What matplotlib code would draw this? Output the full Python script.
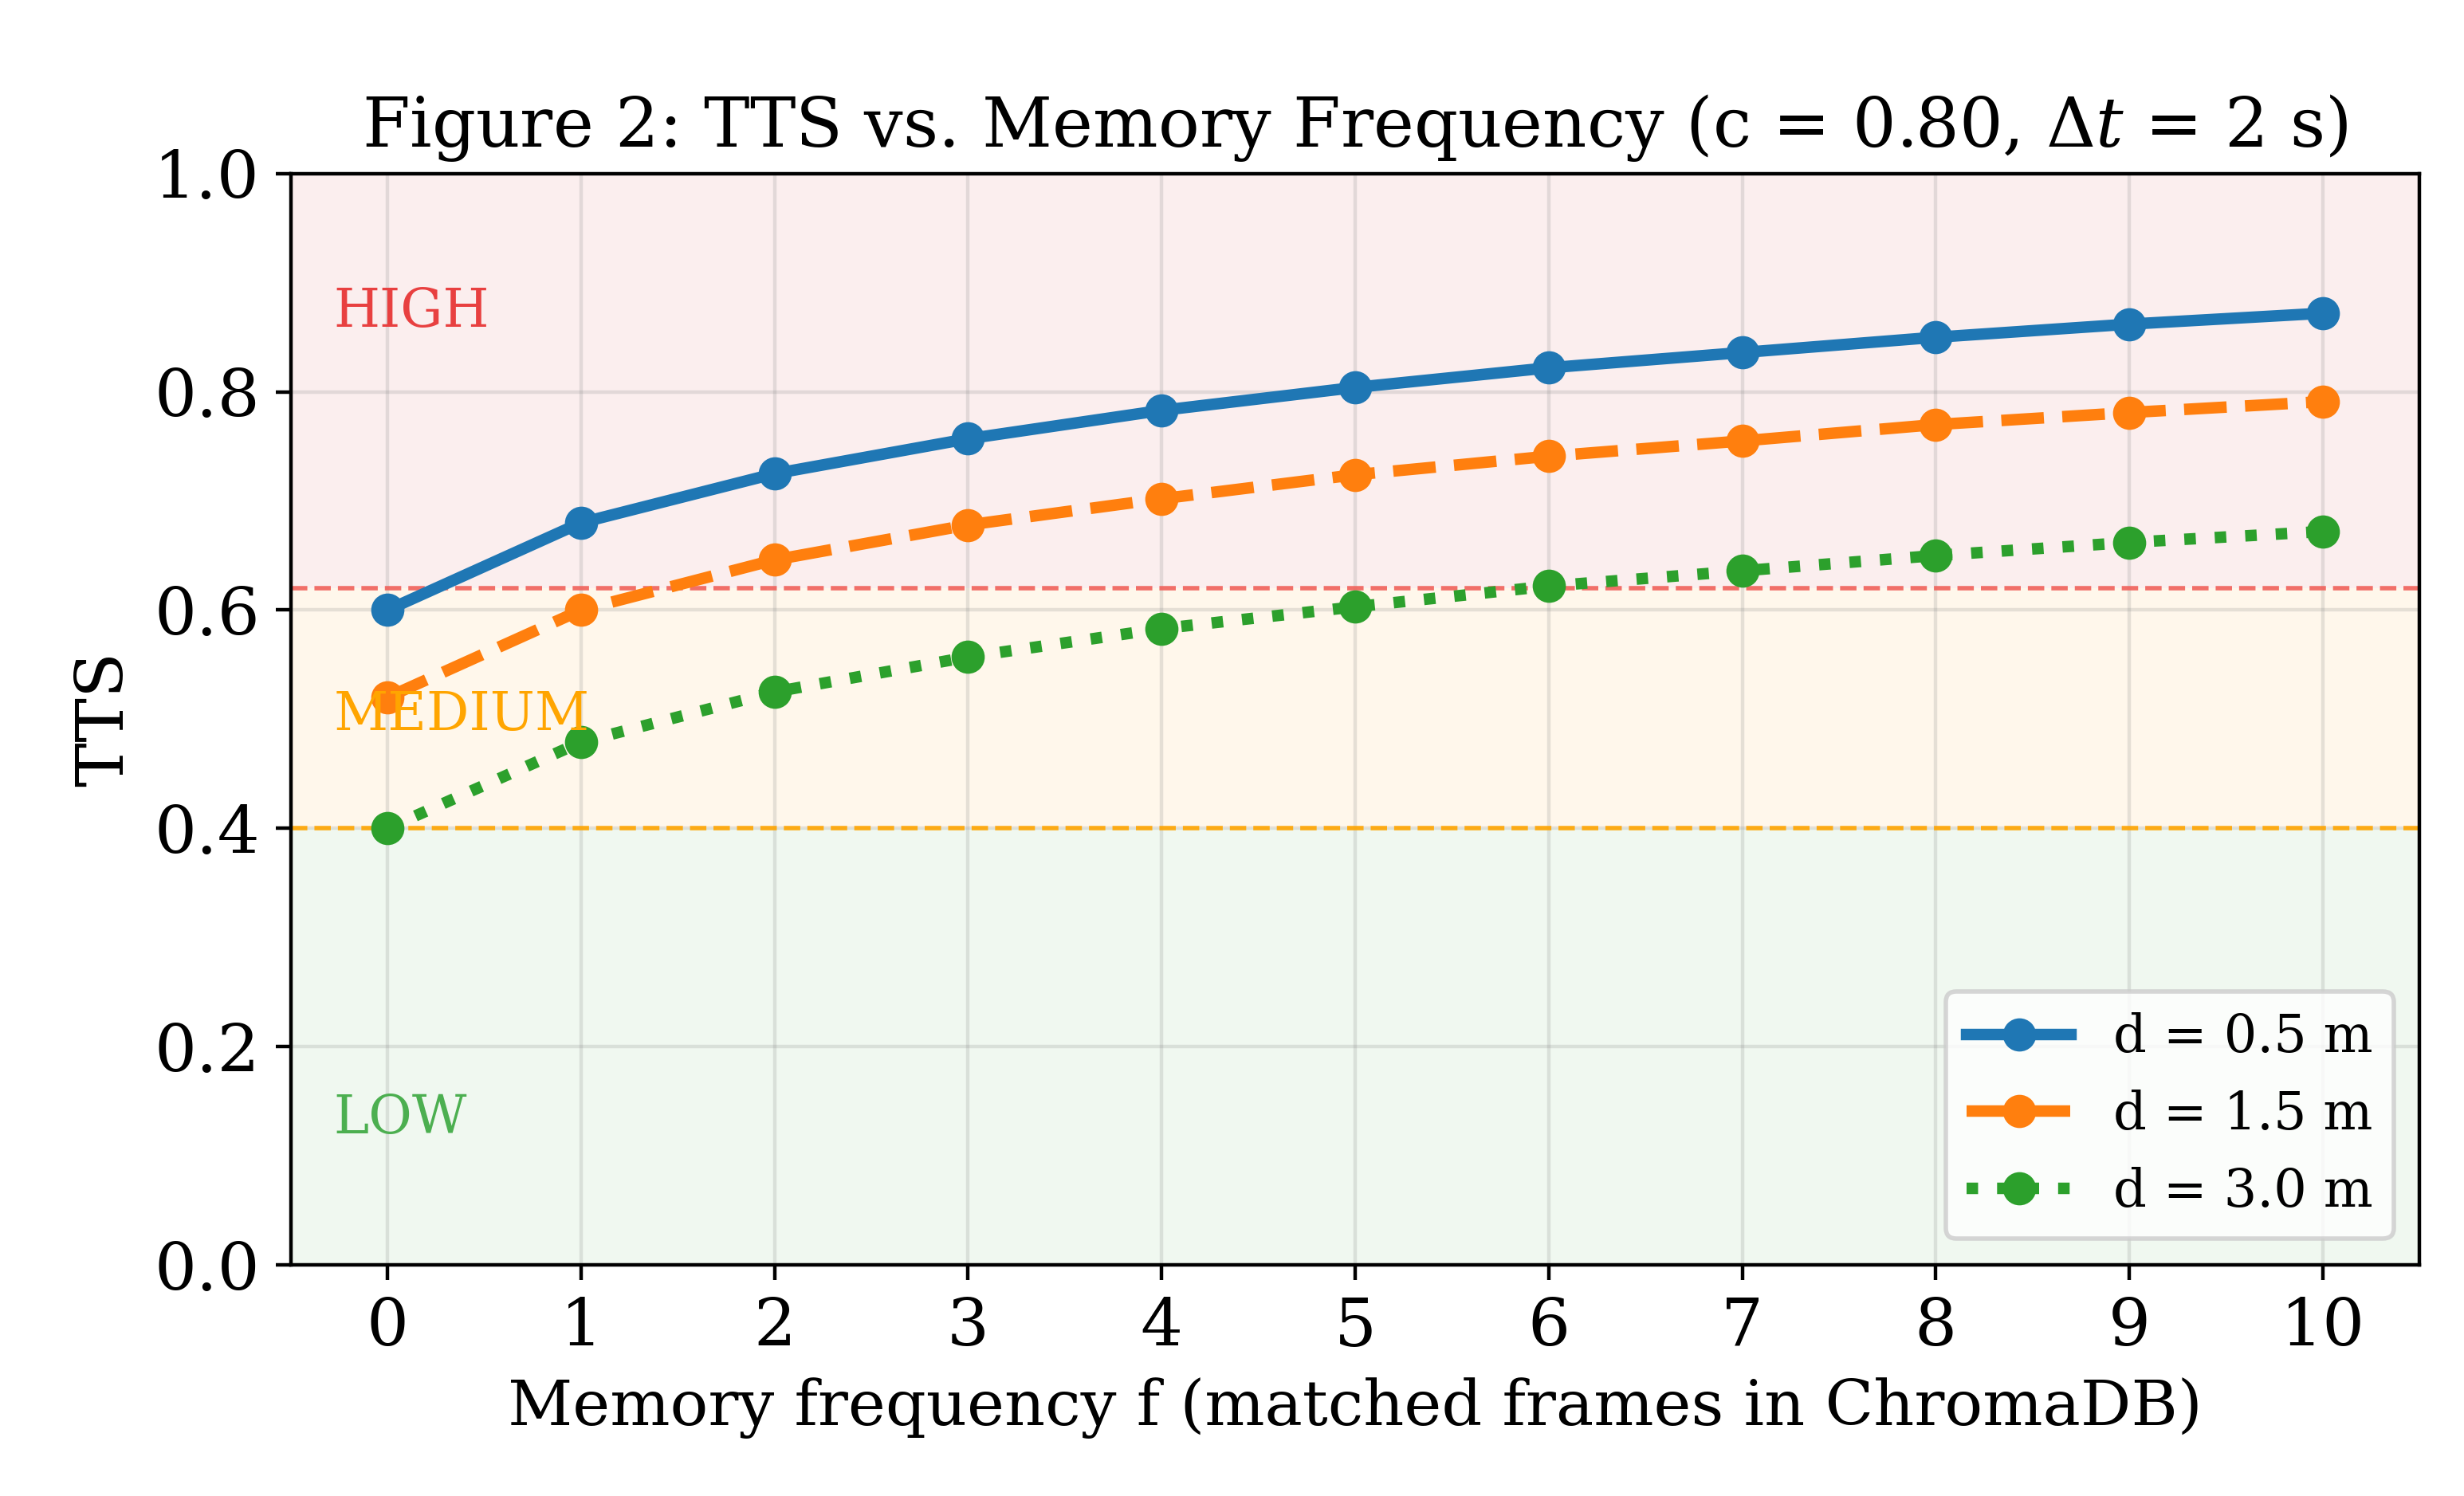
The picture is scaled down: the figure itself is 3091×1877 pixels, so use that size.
import numpy as np
import matplotlib
matplotlib.use('Agg')
from matplotlib import pyplot as plt

freq = np.arange(0, 11)
tts_05 = [0.60, 0.68, 0.725, 0.757, 0.783, 0.804, 0.822, 0.836, 0.850, 0.862, 0.872]
tts_15 = [0.52, 0.60, 0.646, 0.678, 0.702, 0.724, 0.741, 0.755, 0.770, 0.781, 0.791]
tts_30 = [0.40, 0.479, 0.525, 0.557, 0.583, 0.603, 0.622, 0.636, 0.650, 0.662, 0.672]
labels = ['d = 0.5 m', 'd = 1.5 m', 'd = 3.0 m']
high_thr = 0.62
low_thr = 0.40

plt.rcParams['font.family'] = 'DejaVu Serif'
plt.rcParams['mathtext.fontset'] = 'dejavuserif'

fig = plt.figure(figsize=(7.7275, 4.6925), dpi=400)
ax = fig.add_axes([0.118, 0.1545, 0.864, 0.7295])

ax.axhspan(high_thr, 1.0, color='tab:red', alpha=0.08, lw=0)
ax.axhspan(low_thr, high_thr, color='orange', alpha=0.08, lw=0)
ax.axhspan(0.0, low_thr, color='tab:green', alpha=0.07, lw=0)
ax.axhline(high_thr, color='#f0605a', ls='--', lw=1.0, alpha=0.9)
ax.axhline(low_thr, color='orange', ls='--', lw=1.0, alpha=0.9)

ax.plot(freq, tts_05, '-', marker='o', color='tab:blue', lw=2.6, ms=6.5, label=labels[0])
ax.plot(freq, tts_15, '--', marker='o', color='tab:orange', lw=2.6, ms=6.5, label=labels[1])
ax.plot(freq, tts_30, ':', marker='o', color='tab:green', lw=2.6, ms=6.5, label=labels[2])

ax.text(-0.28, 0.873, 'HIGH', color='#e84040', fontsize=12, va='center')
ax.text(-0.28, 0.504, 'MEDIUM', color='orange', fontsize=12, va='center')
ax.text(-0.28, 0.134, 'LOW', color='#4caf50', fontsize=12, va='center')

ax.set_xlim(-0.5, 10.5)
ax.set_ylim(0, 1.0)
ax.set_xticks(freq)
ax.set_yticks([0.0, 0.2, 0.4, 0.6, 0.8, 1.0])
ax.tick_params(labelsize=15)
ax.grid(True, color='gray', alpha=0.2, lw=0.8)
ax.set_xlabel('Memory frequency f (matched frames in ChromaDB)', fontsize=14.3)
ax.set_ylabel('TTS', fontsize=15)
ax.set_title('Figure 2: TTS vs. Memory Frequency (c = 0.80, $\\Delta t$ = 2 s)', fontsize=15.5)
ax.legend(loc='lower right', fontsize=11.8)

fig.savefig('out.png', dpi=400)
